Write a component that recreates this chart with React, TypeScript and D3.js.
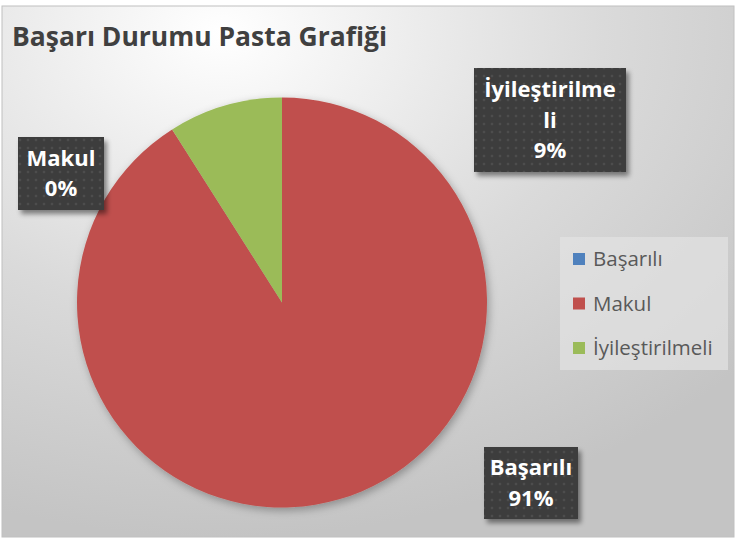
import React from "react";
import * as d3 from "d3";

const categories = ["Başarılı", "Makul", "İyileştirilmeli"];
const values = [91, 0, 9];
const legendColors = ["#4f81bd", "#c0504d", "#9bbb59"];
const sliceColors = ["#c0504d", "#c0504d", "#9bbb59"];
const labelLines = [["Başarılı", "91%"], ["Makul", "0%"], ["İyileştirilme", "li", "9%"]];
const title = "Başarı Durumu Pasta Grafiği";

const W = 736, H = 540;
const cx = 282, cy = 302.5, R = 205;
const labelBoxes = [
  { x: 484, y: 447, w: 94, h: 72 },
  { x: 18, y: 137, w: 86, h: 73 },
  { x: 474, y: 68, w: 152, h: 104 },
];

export default function App() {
  const pie = d3.pie<number>().sort(null).value((d) => d);
  const arcs = pie(values);
  const arc = d3.arc<d3.PieArcDatum<number>>().innerRadius(0).outerRadius(R);
  const font = "'Open Sans', Lato, sans-serif";
  const legendY = d3.scalePoint<string>().domain(categories).range([259, 348]);
  return (
    <svg width={W} height={H} style={{ position: "absolute", left: 0, top: 0 }}>
      <defs>
        <radialGradient id="bg" cx="0.3" cy="0.05" r="0.95" gradientUnits="objectBoundingBox">
          <stop offset="0" stopColor="#ffffff" />
          <stop offset="0.55" stopColor="#dadada" />
          <stop offset="1" stopColor="#c4c4c4" />
        </radialGradient>
        <pattern id="dots" width="8" height="8" patternUnits="userSpaceOnUse">
          <rect width="8" height="8" fill="#3d3d3d" />
          <circle cx="4" cy="4" r="1.3" fill="#4e4e4e" />
        </pattern>
        <filter id="shadow" x="-20%" y="-20%" width="150%" height="150%">
          <feDropShadow dx="3" dy="4" stdDeviation="2.5" floodColor="#000" floodOpacity="0.45" />
        </filter>
        <filter id="pieShadow" x="-20%" y="-20%" width="140%" height="140%">
          <feDropShadow dx="2" dy="3" stdDeviation="4" floodColor="#000" floodOpacity="0.3" />
        </filter>
      </defs>
      <rect x={0} y={0} width={W} height={H} fill="#ffffff" />
      <rect x={2} y={6} width={732} height={531} fill="url(#bg)" stroke="#c0c0c0" strokeWidth={1} />
      <text x={12} y={46} fontFamily={font} fontWeight="bold" fontSize={27} fill="#404040"
        textLength={375} lengthAdjust="spacingAndGlyphs">{title}</text>
      <g transform={`translate(${cx},${cy})`} filter="url(#pieShadow)">
        {arcs.map((a, i) => (
          <path key={i} d={arc(a) || ""} fill={sliceColors[i]} />
        ))}
      </g>
      {labelBoxes.map((b, i) => {
        const lines = labelLines[i];
        const lh = 30.5;
        const startY = b.y + b.h / 2 - ((lines.length - 1) * lh) / 2;
        return (
          <g key={i}>
            <rect x={b.x} y={b.y} width={b.w} height={b.h} fill="url(#dots)" filter="url(#shadow)" />
            {lines.map((t, j) => (
              <text key={j} x={b.x + b.w / 2} y={startY + j * lh} dy="0.35em" textAnchor="middle"
                fontFamily={font} fontWeight="bold" fontSize={22} fill="#ffffff">{t}</text>
            ))}
          </g>
        );
      })}
      <rect x={560} y={237} width={168} height={133} fill="#e2e2e2" opacity={0.7} />
      {categories.map((c, i) => (
        <g key={c} transform={`translate(573,${legendY(c)})`}>
          <rect x={0} y={-6} width={12} height={12} fill={legendColors[i]} />
          <text x={20} y={0} dy="0.35em" fontFamily={font} fontSize={20.5} fill="#595959">{c}</text>
        </g>
      ))}
    </svg>
  );
}
